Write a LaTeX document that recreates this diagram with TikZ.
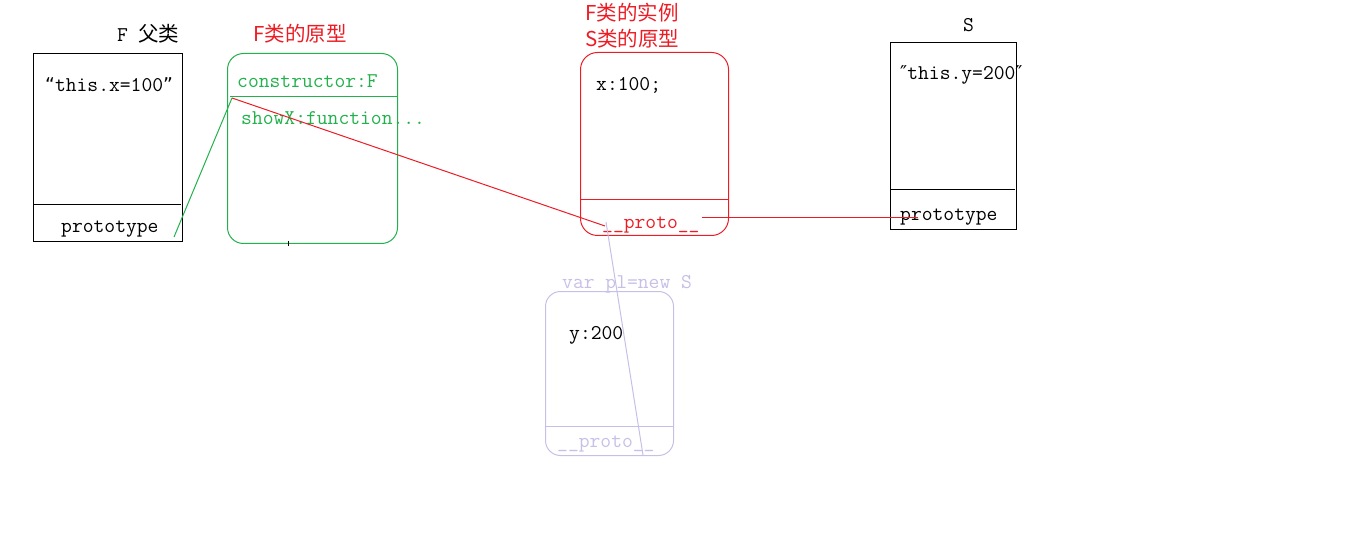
\documentclass[tikz,border=0pt]{standalone}
\usepackage{fontspec}
\newfontfamily\cjk{Noto Sans CJK SC}
\newfontfamily\dv{DejaVu Sans}
\definecolor{pgreen}{RGB}{34,177,76}
\definecolor{pred}{RGB}{237,28,36}
\definecolor{plav}{RGB}{200,191,231}
\newcommand{\dq}[1]{{\dv\fontsize{19}{19}\selectfont #1}}
\tikzset{
  box/.style={draw, inner sep=0pt, anchor=north west, line width=1pt},
  mono/.style={font=\fontsize{21}{21}\selectfont\ttfamily, anchor=base west, inner sep=0pt},
  ttl/.style={font=\fontsize{20.5}{20.5}\selectfont\cjk, anchor=base west, inner sep=0pt},
  link/.style={line width=1pt}
}
\begin{document}
\begin{tikzpicture}[x=1pt,y=-1pt]
\useasboundingbox (0,0) rectangle (1360,540);
% F parent class box
\node[box, minimum width=149pt, minimum height=188pt] (Fbox) at (33,53) {};
\draw[line width=1pt] (33,205) -- (181,205);
\node[ttl, black] (Ftitle) at (117,42) {{\fontsize{21}{21}\selectfont\ttfamily F}\hspace{10pt}父类};
\node[mono] (Fthis) at (45,92) {\dq{“}this.x=100\dq{”}};
\node[mono] (Fproto) at (61,233) {prototype};
% green prototype box
\node[box, draw=pgreen, rounded corners=16pt, minimum width=170pt, minimum height=190pt] (Gbox) at (227,53) {};
\draw[pgreen, line width=1pt] (230,97) -- (397,97);
\node[ttl, text=pred] (Gtitle) at (253,42) {F类的原型};
\node[mono, text=pgreen] (Gcons) at (237,88) {constructor:F};
\node[mono, text=pgreen] (Gshow) at (241,125) {showX:function...};
\draw[line width=0.8pt] (288,241) -- (288,246);
% red instance box
\node[box, draw=pred, rounded corners=17pt, minimum width=148pt, minimum height=183pt] (Rbox) at (580,52) {};
\draw[pred, line width=1pt] (580,200) -- (728,200);
\node[ttl, text=pred] (Rtitle1) at (585,21) {F类的实例};
\node[ttl, text=pred] (Rtitle2) at (585,47) {S类的原型};
\node[mono] (Rx) at (596,91) {x:100;};
\node[mono, text=pred] (Rproto) at (602,229) {\_\_proto\_\_};
% S box
\node[box, minimum width=126pt, minimum height=187pt] (Sbox) at (890,42) {};
\draw[line width=1pt] (890,190) -- (1015,190);
\node[mono] (Stitle) at (963,32) {S};
\node[mono] (Sthis) at (900,80) {\dq{″}this.y=200\dq{″}};
\node[mono] (Sproto) at (900,221) {prototype};
% lavender instance box
\node[box, draw=plav, rounded corners=15pt, minimum width=128pt, minimum height=164pt] (Lbox) at (545,291) {};
\draw[plav, line width=1pt] (545,426) -- (673,426);
\node[mono, text=plav] (Ltitle) at (562,288) {var pl=new S};
\node[mono] (Ly) at (569,339) {y:200};
\node[mono, text=plav] (Lproto) at (557,447) {\_\_proto\_\_};
% connectors
\coordinate (fp) at (174,237);
\coordinate (gc) at (232,98);
\coordinate (rp) at (605,226);
\coordinate (rpr) at (702,218);
\coordinate (spt) at (918,218);
\coordinate (lp0) at (606,222);
\coordinate (lp1) at (643,455);
\draw[link, pgreen] (fp) -- (gc);
\draw[link, pred] (gc) -- (rp);
\draw[link, pred] (rpr) -- (spt);
\draw[link, plav] (lp0) -- (lp1);
\end{tikzpicture}
\end{document}
